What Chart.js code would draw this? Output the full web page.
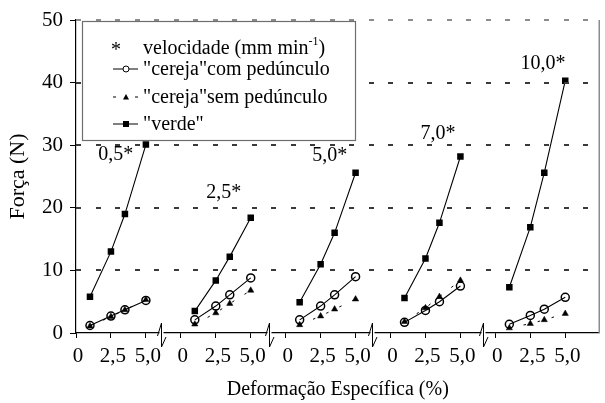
<!DOCTYPE html>
<html>
<head>
<meta charset="utf-8">
<script src="https://cdn.jsdelivr.net/npm/chart.js@4"></script>
<style>
  html, body { margin: 0; padding: 0; background: #fff; }
  canvas { display: block; }
</style>
</head>
<body>
<canvas id="chart" width="605" height="403"></canvas>
<script>
// Specific deformation (%) at which force was recorded, within each speed group
const strain = [1.0, 2.5, 3.5, 5.0];
// Loading speeds (mm min-1), one group of curves per speed
const speeds = ['0,5', '2,5', '5,0', '7,0', '10,0'];
// Force (N), one row per loading speed
const verde = [
  [5.8, 13.0, 19.0, 30.1],
  [3.5, 8.4, 12.2, 18.4],
  [4.9, 11.0, 16.0, 25.6],
  [5.6, 11.9, 17.6, 28.2],
  [7.3, 16.9, 25.6, 40.3]
];
const cerejaCom = [
  [1.2, 2.7, 3.7, 5.2],
  [2.1, 4.3, 6.1, 8.8],
  [2.1, 4.3, 6.1, 9.0],
  [1.7, 3.6, 5.0, 7.5],
  [1.4, 2.8, 3.8, 5.7]
];
const cerejaSem = [
  [1.1, 2.6, 3.7, 5.3],
  [1.4, 3.2, 4.7, 6.8],
  [1.3, 2.7, 3.8, 5.4],
  [1.8, 4.0, 5.8, 8.4],
  [0.8, 1.5, 2.1, 3.1]
];
// Tick labels repeated under every group, and force ticks
const groupTickLabels = ['0', '2,5', '5,0'];
const groupTickValues = [0, 2.5, 5.0];
const forceTicks = [0, 10, 20, 30, 40, 50];

// Each speed group occupies its own stretch of the shared x scale
const GROUP_SPAN = 7.5;
const X_MAX = 37.45;
const SERIF = "'Liberation Serif', 'Times New Roman', serif";

function groupedPoints(rows) {
  const pts = [];
  rows.forEach((row, g) => {
    if (g > 0) pts.push({ x: g * GROUP_SPAN - 1, y: null }); // break the line between groups
    row.forEach((v, i) => pts.push({ x: g * GROUP_SPAN + strain[i], y: v }));
  });
  return pts;
}

// Dashed reference lines, speed labels, broken-axis marks, right frame and the boxed key
const decorations = {
  id: 'decorations',
  afterDraw(chart, args, opts) {
    const { ctx, chartArea: area, scales: { x, y } } = chart;
    ctx.save();

    // dashed reference lines at each force tick (5 px dash, 19.5 px period)
    forceTicks.forEach(v => {
      if (v === 0) return;
      const py = Math.round(y.getPixelForValue(v));
      ctx.fillStyle = v === 50 ? '#8c8c8c' : '#3a3a3a';
      for (let px = area.left; px < area.right; px += 19.5) {
        ctx.fillRect(Math.round(px), py - 1, Math.min(5, area.right - px), 2);
      }
    });

    // right frame
    ctx.fillStyle = '#8c8c8c';
    ctx.fillRect(Math.round(area.right) - 1.5, area.top, 1.5, area.bottom - area.top);

    // broken-axis marks
    ctx.strokeStyle = '#000';
    ctx.lineWidth = 1;
    const yb = y.getPixelForValue(0);
    opts.breaks.forEach(b => {
      const px = Math.round(x.getPixelForValue(b)) + 0.5;
      ctx.fillStyle = '#fff';
      ctx.fillRect(px - 2, yb - 1, 4, 2);
      ctx.beginPath();
      ctx.moveTo(px - 4, yb + 3);
      ctx.lineTo(px, yb - 10);
      ctx.lineTo(px, yb + 14);
      ctx.lineTo(px + 4.5, yb + 4);
      ctx.stroke();
    });

    // speed labels over each group
    ctx.fillStyle = '#000';
    ctx.font = '20px ' + SERIF;
    ctx.textAlign = 'center';
    ctx.textBaseline = 'middle';
    speeds.forEach((s, i) => {
      const a = opts.speedLabelAt[i];
      ctx.fillText(s + '*', x.getPixelForValue(a[0]), y.getPixelForValue(a[1]));
    });

    // key
    const k = opts.key;
    ctx.fillStyle = '#fff';
    ctx.fillRect(k.left, k.top, k.width, k.height);
    ctx.strokeStyle = '#6e6e6e';
    ctx.lineWidth = 1.2;
    ctx.strokeRect(k.left + 0.5, k.top + 0.5, k.width, k.height);

    const sx = k.left + 31, ex = k.left + 56, mx = k.left + 44, tx = k.left + 61;
    ctx.fillStyle = '#000';
    ctx.strokeStyle = '#000';
    ctx.textAlign = 'left';
    ctx.textBaseline = 'alphabetic';
    ctx.font = '20px ' + SERIF;

    // row 1: speed note
    ctx.textAlign = 'center';
    ctx.fillText('*', mx - 10, k.rows[0] + 2);
    ctx.textAlign = 'left';
    const t1 = 'velocidade (mm min';
    ctx.fillText(t1, tx, k.rows[0]);
    const w = ctx.measureText(t1).width;
    ctx.font = '12px ' + SERIF;
    ctx.fillText('-1', tx + w, k.rows[0] - 9);
    const w2 = ctx.measureText('-1').width;
    ctx.font = '20px ' + SERIF;
    ctx.fillText(')', tx + w + w2, k.rows[0]);

    // row 2: circles, solid line
    let ly = k.rows[1] - 6;
    ctx.lineWidth = 1;
    ctx.beginPath(); ctx.moveTo(sx, ly); ctx.lineTo(ex, ly); ctx.stroke();
    ctx.fillStyle = '#fff';
    ctx.beginPath(); ctx.arc(mx, ly, 3, 0, Math.PI * 2); ctx.fill(); ctx.stroke();
    ctx.fillStyle = '#000';
    ctx.fillText('"cereja"com pedúnculo', tx, k.rows[1]);

    // row 3: triangles, dashed line
    ly = k.rows[2] - 6;
    ctx.beginPath();
    ctx.moveTo(sx, ly); ctx.lineTo(sx + 3, ly);
    ctx.moveTo(ex - 3, ly); ctx.lineTo(ex, ly);
    ctx.stroke();
    ctx.beginPath();
    ctx.moveTo(mx, ly - 3); ctx.lineTo(mx + 3, ly + 2.5); ctx.lineTo(mx - 3, ly + 2.5);
    ctx.closePath(); ctx.fill();
    ctx.fillText('"cereja"sem pedúnculo', tx, k.rows[2]);

    // row 4: squares, solid line
    ly = k.rows[3] - 6;
    ctx.beginPath(); ctx.moveTo(sx, ly); ctx.lineTo(ex, ly); ctx.stroke();
    ctx.fillRect(mx - 3, ly - 3, 6, 6);
    ctx.fillText('"verde"', tx, k.rows[3]);

    ctx.restore();
  }
};

new Chart(document.getElementById('chart'), {
  type: 'scatter',
  data: {
    datasets: [
      {
        label: '"cereja"sem pedúnculo',
        data: groupedPoints(cerejaSem),
        showLine: true,
        spanGaps: false,
        borderColor: '#000',
        borderWidth: 1,
        borderDash: [2.5, 12],
        pointStyle: 'triangle',
        pointRadius: 3.6,
        pointBackgroundColor: '#000',
        pointBorderColor: '#000',
        pointBorderWidth: 0.5
      },
      {
        label: '"cereja"com pedúnculo',
        data: groupedPoints(cerejaCom),
        showLine: true,
        spanGaps: false,
        borderColor: '#000',
        borderWidth: 1.1,
        pointStyle: 'circle',
        pointRadius: 4,
        pointBackgroundColor: 'rgba(255,255,255,0)',
        pointBorderColor: '#000',
        pointBorderWidth: 1.5
      },
      {
        label: '"verde"',
        data: groupedPoints(verde),
        showLine: true,
        spanGaps: false,
        borderColor: '#000',
        borderWidth: 1.1,
        pointStyle: 'rect',
        pointRadius: 4.6,
        pointBackgroundColor: '#000',
        pointBorderColor: '#000',
        pointBorderWidth: 0
      }
    ]
  },
  options: {
    responsive: false,
    animation: false,
    devicePixelRatio: 1,
    layout: { padding: { top: 20, right: 1, left: 0, bottom: 0 } },
    plugins: {
      legend: { display: false },
      tooltip: { enabled: false },
      decorations: {
        breaks: [6.1, 13.8, 21.2, 29.1],
        speedLabelAt: [[2.84, 28.5], [10.57, 22.4], [18.16, 28.3], [25.89, 31.9], [33.4, 42.96]],
        key: { left: 82, top: 21, width: 273, height: 119, rows: [54, 75, 103, 130] }
      }
    },
    scales: {
      x: {
        type: 'linear',
        min: 0,
        max: X_MAX,
        afterFit(scale) { scale.height = 70; },
        afterBuildTicks(scale) {
          const t = [];
          speeds.forEach((s, g) => groupTickValues.forEach(v => t.push({ value: g * GROUP_SPAN + v })));
          scale.ticks = t;
        },
        ticks: {
          autoSkip: false,
          maxRotation: 0,
          padding: 6,
          labelOffset: 2,
          color: '#000',
          font: { family: SERIF, size: 21 },
          callback(value) {
            const r = ((value % GROUP_SPAN) + GROUP_SPAN) % GROUP_SPAN;
            return groupTickLabels[Math.round(r / 2.5)];
          }
        },
        grid: {
          drawOnChartArea: false,
          drawTicks: true,
          tickLength: 5,
          tickColor: '#000',
          tickWidth: 1
        },
        border: { display: true, color: '#000', width: 1.2 },
        title: {
          display: true,
          text: 'Deformação Específica (%)',
          color: '#000',
          font: { family: SERIF, size: 20 },
          padding: { top: 0, bottom: 1 }
        }
      },
      y: {
        min: 0,
        max: 50,
        afterFit(scale) { scale.width = 76; },
        afterBuildTicks(scale) {
          scale.ticks = forceTicks.map(v => ({ value: v }));
        },
        ticks: {
          padding: 7,
          color: '#000',
          font: { family: SERIF, size: 21 }
        },
        grid: {
          drawOnChartArea: false,
          drawTicks: true,
          tickLength: 6,
          tickColor: '#000',
          tickWidth: 1
        },
        border: { display: true, color: '#000', width: 1.2 },
        title: {
          display: true,
          text: 'Força (N)',
          color: '#000',
          font: { family: SERIF, size: 22 },
          padding: { top: 5, bottom: 0 }
        }
      }
    }
  },
  plugins: [decorations]
});
</script>
</body>
</html>
